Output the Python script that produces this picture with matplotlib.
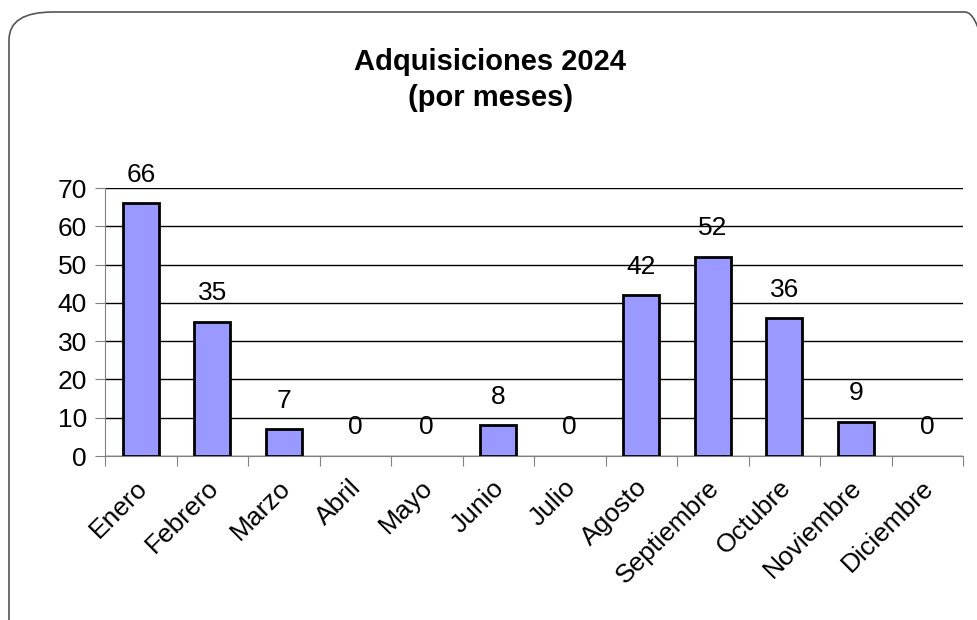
import matplotlib
matplotlib.use("Agg")
import matplotlib.pyplot as plt
from matplotlib.patches import FancyBboxPatch
from matplotlib.transforms import ScaledTranslation

months = ['Enero', 'Febrero', 'Marzo', 'Abril', 'Mayo', 'Junio', 'Julio',
          'Agosto', 'Septiembre', 'Octubre', 'Noviembre', 'Diciembre']
counts = [66, 35, 7, 0, 0, 8, 0, 42, 52, 36, 9, 0]
y_ticks = [0, 10, 20, 30, 40, 50, 60, 70]

plt.rcParams['font.family'] = ['Liberation Sans', 'DejaVu Sans']

fig = plt.figure(figsize=(9.77, 6.2), dpi=100)
fig.patch.set_facecolor('white')

# rounded frame around the chart area (runs off the right/bottom edge)
frame = FancyBboxPatch((9 / 977, 1 - 650 / 620), 1000 / 977, 638 / 620,
                       boxstyle='round,pad=0,rounding_size=0.045',
                       transform=fig.transFigure, facecolor='none',
                       edgecolor='#555555', linewidth=1.2, zorder=0)
fig.patches.append(frame)

ax = fig.add_axes([105 / 977, 1 - 456 / 620, (963 - 105) / 977, (456 - 188) / 620])
x = list(range(len(months)))
# empty months show no outline in the original
edge_w = [2 if c else 0 for c in counts]
ax.bar(x, counts, width=0.5, color='#9999ff', edgecolor='black', linewidth=edge_w, zorder=3)

for xi, v in zip(x, counts):
    ax.annotate(str(v), (xi, v), xytext=(0, 12), textcoords='offset points',
                ha='center', va='bottom', fontsize=19, color='black')

ax.set_xlim(-0.5, len(months) - 0.5)
ax.set_ylim(0, 70)
ax.set_yticks(y_ticks)
ax.yaxis.grid(True, color='black', linewidth=1)
ax.set_axisbelow(True)

ax.set_xticks([i - 0.5 for i in range(len(months) + 1)], minor=False)
ax.set_xticklabels([])
ax.set_xticks(x, minor=True)
ax.set_xticklabels(months, minor=True, rotation=45, ha='right', va='top',
                   rotation_mode='anchor', fontsize=19)
ax.tick_params(axis='x', which='minor', length=0, pad=14)
ax.tick_params(axis='x', which='major', length=7, color='#808080', direction='out')
ax.tick_params(axis='y', length=7, color='#808080', labelsize=19, pad=6)

shift = ScaledTranslation(-6 / 100, 0, fig.dpi_scale_trans)
for lab in ax.get_xticklabels(minor=True):
    lab.set_transform(lab.get_transform() + shift)

for s in ['top', 'right']:
    ax.spines[s].set_visible(False)
ax.spines['left'].set_color('#808080')
ax.spines['bottom'].set_color('#808080')

fig.text(0.502, 1 - 80 / 620, 'Adquisiciones 2024\n(por meses)', ha='center', va='center',
         fontsize=21, fontweight='bold', linespacing=1.4)

fig.savefig('out.png', dpi=100)
